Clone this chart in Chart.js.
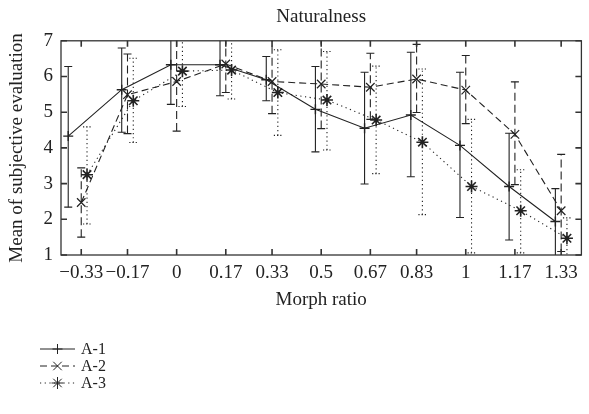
<!DOCTYPE html>
<html><head><meta charset="utf-8">
<script src="https://cdn.jsdelivr.net/npm/chart.js@4/dist/chart.umd.min.js"></script>
<style>html,body{margin:0;padding:0;background:#fff;overflow:hidden}#wrap{width:589px;height:414px}</style>
</head><body><div id="wrap"><canvas id="c" width="589" height="414"></canvas></div>
<script>
// ---- data ----
const xTicks = [-0.33, -0.17, 0, 0.17, 0.33, 0.5, 0.67, 0.83, 1, 1.17, 1.33];
const xTickLabels = ['\u22120.33', '\u22120.17', '0', '0.17', '0.33', '0.5', '0.67', '0.83', '1', '1.17', '1.33'];
const yTicks = [1, 2, 3, 4, 5, 6, 7];
const seriesNames = ['A-1', 'A-2', 'A-3'];

const xA1 = [-0.375, -0.19, -0.02, 0.15, 0.31, 0.48, 0.65, 0.81, 0.98, 1.15, 1.31];
const meanA1 = [4.33, 5.63, 6.33, 6.33, 5.91, 5.08, 4.55, 4.92, 4.07, 2.92, 1.94];
const lowA1  = [2.34, 4.44, 5.22, 5.46, 5.32, 3.89, 2.99, 3.19, 2.05, 1.42, 0.90];
const highA1 = [6.28, 6.80, 7.30, 7.30, 6.56, 6.28, 6.12, 6.68, 6.12, 4.41, 2.86];

const xA2 = [-0.33, -0.17, 0, 0.17, 0.33, 0.5, 0.67, 0.83, 1, 1.17, 1.33];
const meanA2 = [2.47, 5.49, 5.86, 6.35, 5.86, 5.79, 5.70, 5.93, 5.62, 4.38, 2.24];
const lowA2  = [1.50, 4.40, 4.47, 5.55, 4.96, 4.54, 4.80, 4.99, 4.68, 2.97, 1.10];
const highA2 = [3.44, 6.63, 7.30, 7.30, 7.30, 7.30, 6.65, 6.90, 6.59, 5.85, 3.82];

const xA3 = [-0.31, -0.15, 0.02, 0.19, 0.35, 0.52, 0.69, 0.85, 1.02, 1.19, 1.35];
const meanA3 = [3.25, 5.32, 6.15, 6.18, 5.55, 5.34, 4.78, 4.16, 2.92, 2.24, 1.47];
const lowA3  = [1.87, 4.15, 5.16, 5.37, 4.35, 3.94, 3.28, 2.13, 1.06, 1.06, 0.90];
const highA3 = [4.59, 6.51, 7.30, 7.30, 6.75, 6.70, 6.29, 6.21, 4.80, 3.39, 2.04];

// ---- styling ----
const FONT = "'Liberation Serif', 'Times New Roman', serif";
const INK = '#222';
const FRAME = '#333';

function pts(xs, ys) { return xs.map((x, i) => ({ x: x, y: ys[i] })); }

const errorBars = {
  id: 'errorBars',
  beforeDatasetsDraw(chart) {
    const { ctx, chartArea: a, scales: { y } } = chart;
    ctx.save();
    ctx.beginPath();
    ctx.rect(a.left, a.top, a.right - a.left, a.bottom - a.top);
    ctx.clip();
    chart.data.datasets.forEach((ds, di) => {
      const meta = chart.getDatasetMeta(di);
      ctx.strokeStyle = ds.borderColor;
      ctx.lineWidth = 1.1;
      meta.data.forEach((p, i) => {
        const x = p.x;
        const yl = y.getPixelForValue(ds.low[i]);
        const yh = y.getPixelForValue(ds.high[i]);
        ctx.setLineDash(ds.errDash);
        ctx.beginPath(); ctx.moveTo(x, yl); ctx.lineTo(x, yh); ctx.stroke();
        ctx.setLineDash(ds.capDash);
        ctx.beginPath();
        ctx.moveTo(x - 4, yl); ctx.lineTo(x + 4, yl);
        ctx.moveTo(x - 4, yh); ctx.lineTo(x + 4, yh);
        ctx.stroke();
      });
    });
    ctx.restore();
  }
};

const frameTicks = {
  id: 'frameTicks',
  afterDraw(chart) {
    const { ctx, chartArea: a, scales: { x, y } } = chart;
    ctx.save();
    ctx.strokeStyle = FRAME;
    ctx.lineWidth = 1.3;
    ctx.setLineDash([]);
    ctx.strokeRect(a.left, a.top, a.right - a.left, a.bottom - a.top);
    const L = 6;
    ctx.lineWidth = 1.6;
    ctx.beginPath();
    x.ticks.forEach(t => {
      const px = x.getPixelForValue(t.value);
      ctx.moveTo(px, a.bottom); ctx.lineTo(px, a.bottom - L);
      ctx.moveTo(px, a.top); ctx.lineTo(px, a.top + L);
    });
    y.ticks.forEach(t => {
      const py = y.getPixelForValue(t.value);
      ctx.moveTo(a.left, py); ctx.lineTo(a.left + L, py);
      ctx.moveTo(a.right, py); ctx.lineTo(a.right - L, py);
    });
    ctx.stroke();

    // legend
    const lx0 = 40, lx1 = 75, tx = 81, ly0 = 349, dy = 17;
    chart.data.datasets.forEach((ds, i) => {
      const yy = ly0 + i * dy;
      ctx.strokeStyle = ds.borderColor;
      ctx.lineWidth = 1;
      ctx.setLineDash(ds.borderDash);
      ctx.beginPath(); ctx.moveTo(lx0, yy); ctx.lineTo(lx1, yy); ctx.stroke();
      ctx.setLineDash([]);
      Chart.helpers.drawPoint(ctx, {
        pointStyle: ds.pointStyle, radius: ds.pointRadius, borderWidth: ds.pointBorderWidth, rotation: 0
      }, (lx0 + lx1) / 2, yy);
      ctx.fillStyle = INK;
      ctx.font = '16px ' + FONT;
      ctx.textBaseline = 'middle';
      ctx.textAlign = 'left';
      ctx.fillText(ds.label, tx, yy + 1);
    });
    ctx.restore();
  }
};

function ds(label, xs, mean, low, high, dash, errDash, capDash, style, r, bw) {
  return {
    label: label, data: pts(xs, mean), low: low, high: high,
    borderColor: INK, backgroundColor: INK, borderWidth: 1.1, borderDash: dash,
    errDash: errDash, capDash: capDash,
    pointStyle: style, pointRadius: r, pointBorderWidth: bw, pointBorderColor: INK,
    pointBackgroundColor: INK, tension: 0, fill: false, showLine: true, clip: 8
  };
}

new Chart(document.getElementById('c'), {
  type: 'scatter',
  data: {
    datasets: [
      ds(seriesNames[0], xA1, meanA1, lowA1, highA1, [], [], [], 'cross', 5, 1.4),
      ds(seriesNames[1], xA2, meanA2, lowA2, highA2, [7, 4], [8, 4], [], 'crossRot', 6, 1.2),
      ds(seriesNames[2], xA3, meanA3, lowA3, highA3, [1.2, 3.5], [1.2, 3], [1.2, 2], 'star', 6, 1.6)
    ]
  },
  options: {
    responsive: false, animation: false, devicePixelRatio: 1,
    layout: { padding: { left: 0, right: 1, top: 0, bottom: 102 } },
    plugins: {
      legend: { display: false },
      tooltip: { enabled: false },
      title: {
        display: true, text: 'Naturalness', fullSize: false, color: INK,
        font: { family: FONT, size: 19, weight: 'normal' }, padding: { top: 6, bottom: 12 }
      }
    },
    scales: {
      x: {
        type: 'linear', min: -0.4, max: 1.4,
        afterBuildTicks: s => { s.ticks = xTicks.map(v => ({ value: v })); },
        afterFit: s => { s.height = 57; },
        ticks: {
          autoSkip: false, maxRotation: 0, color: INK, padding: 7,
          font: { family: FONT, size: 19 },
          callback: (v, i) => xTickLabels[i]
        },
        grid: { display: false, drawTicks: false },
        border: { display: false },
        title: { display: true, text: 'Morph ratio', color: INK, font: { family: FONT, size: 19 }, padding: { top: 0, bottom: 1 } }
      },
      y: {
        type: 'linear', min: 1, max: 7,
        afterBuildTicks: s => { s.ticks = yTicks.map(v => ({ value: v })); },
        afterFit: s => { s.width = 61; },
        ticks: { color: INK, padding: 8, font: { family: FONT, size: 19 } },
        grid: { display: false, drawTicks: false },
        border: { display: false },
        title: { display: true, text: 'Mean of subjective evaluation', color: INK, font: { family: FONT, size: 19 }, padding: { top: 6, bottom: 0 } }
      }
    }
  },
  plugins: [errorBars, frameTicks]
});
</script>
</body></html>
